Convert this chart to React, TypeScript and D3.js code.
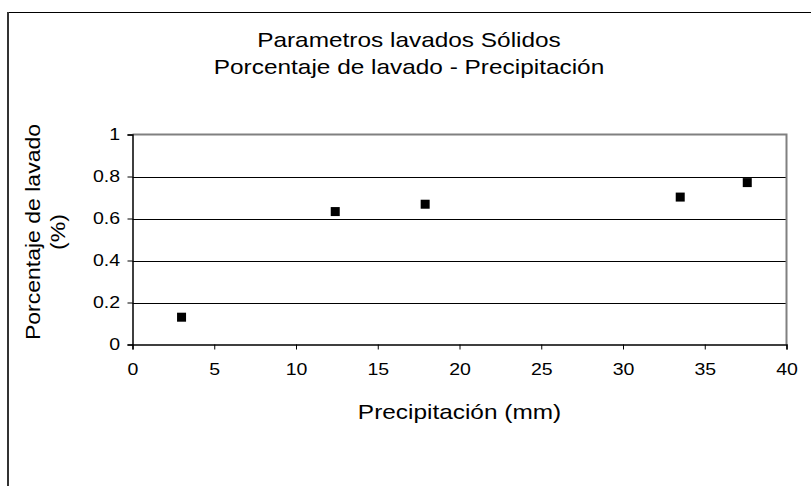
import { useRef, useEffect } from "react";
import * as d3 from "d3";

// data
const precipitacion = [3, 12.4, 17.9, 33.5, 37.6];
const lavado = [0.13, 0.633, 0.668, 0.702, 0.771];
const xTicks = [0, 5, 10, 15, 20, 25, 30, 35, 40];
const yTicks = [0, 0.2, 0.4, 0.6, 0.8, 1];
const titleLines = ["Parametros lavados Sólidos", "Porcentaje de lavado - Precipitación"];
const yTitleLines = ["Porcentaje de lavado", "(%)"];
const xTitle = "Precipitación (mm)";

const App = () => {
  const svgRef = useRef<SVGSVGElement>(null);

  useEffect(() => {
    const w = 811;
    const h = 486;
    const left = 132.5;
    const right = 786.5;
    const top = 134.5;
    const bottom = 344.5;
    const font = "Liberation Sans, Arial, sans-serif";
    const sx = 1.22; // text in the original is a bit wider than Liberation Sans

    const svg = d3.select(svgRef.current).attr("width", w).attr("height", h);
    svg.selectAll("*").remove();

    svg.append("rect").attr("width", w).attr("height", h).attr("fill", "#fff");

    // outer chart border (only top and left visible)
    svg.append("line").attr("x1", 8).attr("x2", w).attr("y1", 12.5).attr("y2", 12.5)
      .attr("stroke", "#000").attr("stroke-width", 1);
    svg.append("line").attr("x1", 8).attr("x2", 8).attr("y1", 12).attr("y2", h)
      .attr("stroke", "#333").attr("stroke-width", 2);

    const x = d3.scaleLinear().domain([0, 40]).range([left, right]);
    const y = d3.scaleLinear().domain([0, 1]).range([bottom, top]);

    // titles
    svg.append("g").selectAll("text").data(titleLines).join("text")
      .attr("transform", (d, i) => `translate(409,${47 + i * 26.5}) scale(${sx},1)`)
      .attr("text-anchor", "middle").attr("font-family", font).attr("font-size", 20)
      .attr("fill", "#000").text((d) => d);

    // gridlines
    svg.append("g").selectAll("line").data(yTicks.filter((t) => t > 0 && t < 1)).join("line")
      .attr("x1", left).attr("x2", right)
      .attr("y1", (d) => Math.round(y(d)) + 0.5).attr("y2", (d) => Math.round(y(d)) + 0.5)
      .attr("stroke", "#000").attr("stroke-width", 1);

    // plot area border top/right
    svg.append("path")
      .attr("d", `M${left},${top}H${right}V${bottom}`)
      .attr("fill", "none").attr("stroke", "#808080").attr("stroke-width", 2);

    // x axis
    const xAxis = d3.axisBottom(x).tickValues(xTicks).tickSize(5).tickPadding(14)
      .tickFormat((d) => String(d));
    const gx = svg.append("g").attr("transform", `translate(0,${bottom})`).call(xAxis);
    gx.select(".domain").attr("stroke", "#000").attr("stroke-width", 1.5);
    gx.selectAll(".tick line").attr("stroke", "#000");
    gx.selectAll(".tick text").attr("font-family", font).attr("font-size", 16).attr("fill", "#000")
      .attr("transform", `scale(${sx},1)`);

    // y axis
    const yAxis = d3.axisLeft(y).tickValues(yTicks).tickSize(5).tickPadding(7)
      .tickFormat((d) => String(d));
    const gy = svg.append("g").attr("transform", `translate(${left},0)`).call(yAxis);
    gy.select(".domain").attr("stroke", "#000").attr("stroke-width", 1.5);
    gy.selectAll(".tick line").attr("stroke", "#000");
    gy.selectAll(".tick text").attr("font-family", font).attr("font-size", 16).attr("fill", "#000")
      .attr("x", -12.5 / sx).attr("transform", `scale(${sx},1)`);

    // axis titles
    svg.append("text").attr("transform", `translate(${(left + right) / 2},419) scale(${sx},1)`)
      .attr("text-anchor", "middle").attr("font-family", font).attr("font-size", 20)
      .attr("fill", "#000").text(xTitle);

    svg.append("g").selectAll("text").data(yTitleLines).join("text")
      .attr("transform", (d, i) => `translate(${40 + i * 25},232) rotate(-90) scale(1.15,1)`)
      .attr("text-anchor", "middle").attr("font-family", font).attr("font-size", 20)
      .attr("fill", "#000").text((d) => d);

    // markers
    const sz = 9;
    svg.append("g").selectAll("rect").data(precipitacion).join("rect")
      .attr("x", (d) => x(d) - sz / 2)
      .attr("y", (d, i) => y(lavado[i]) - sz / 2)
      .attr("width", sz).attr("height", sz).attr("fill", "#000");
  }, []);

  return <svg ref={svgRef} style={{ position: "absolute", left: 0, top: 0 }}></svg>;
};

export default App;
